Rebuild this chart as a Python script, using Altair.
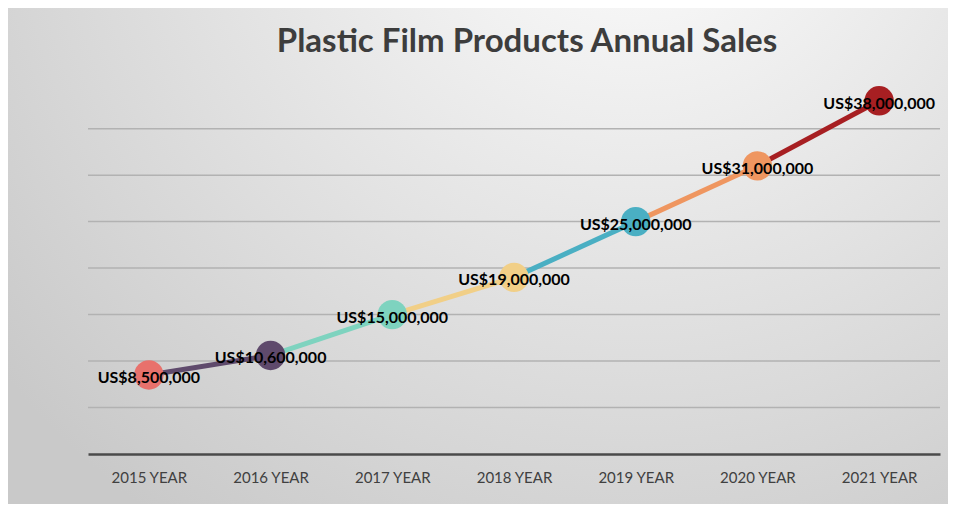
import altair as alt
import pandas as pd

title_text = "Plastic Film Products Annual Sales"
years = ["2015 YEAR", "2016 YEAR", "2017 YEAR", "2018 YEAR", "2019 YEAR", "2020 YEAR", "2021 YEAR"]
sales = [8500000, 10600000, 15000000, 19000000, 25000000, 31000000, 38000000]
labels = ["US$8,500,000", "US$10,600,000", "US$15,000,000", "US$19,000,000",
          "US$25,000,000", "US$31,000,000", "US$38,000,000"]
colors = ["#E8716C", "#5F4A6C", "#7ED3BF", "#F1CF87", "#4AAFC3", "#EF9660", "#A71F22"]
grid_values = [5000000, 10000000, 15000000, 20000000, 25000000, 30000000, 35000000]

W, H = 852, 330

pts = pd.DataFrame({"year": years, "sales": sales, "label": labels, "color": colors})

seg_rows = []
for i in range(len(years) - 1):
    seg_rows.append({"seg": i, "year": years[i], "sales": sales[i], "color": colors[i + 1]})
    seg_rows.append({"seg": i, "year": years[i + 1], "sales": sales[i + 1], "color": colors[i + 1]})
segs = pd.DataFrame(seg_rows)

xscale = alt.Scale(type="point", padding=0.5, domain=years)
yscale = alt.Scale(domain=[0, 35500000], nice=False, zero=True)

bg = alt.Chart(pd.DataFrame({"a": [0]})).mark_rect(
    fill=alt.RadialGradient(
        gradient="radial", x1=0.66, y1=0.08, r1=0.0, x2=0.66, y2=0.08, r2=0.85,
        stops=[alt.GradientStop(offset=0, color="#ffffff"),
               alt.GradientStop(offset=1, color="#c9c9c9")]),
    stroke=None,
).encode(x=alt.value(-90), x2=alt.value(W + 20), y=alt.value(-126), y2=alt.value(H + 62))

title = alt.Chart(pd.DataFrame({"t": [title_text]})).mark_text(
    font="Lato", fontSize=33, fontWeight="bold", color="#3d3d3d",
    align="center", baseline="alphabetic"
).encode(x=alt.value(W / 2 + 13), y=alt.value(-72), text="t:N")

grid = alt.Chart(pd.DataFrame({"g": grid_values})).mark_rule(
    color="#b2b2b2", strokeWidth=1.5
).encode(y=alt.Y("g:Q", scale=yscale, axis=None))

lines = alt.Chart(segs).mark_line(strokeWidth=5, strokeCap="butt").encode(
    x=alt.X("year:N", scale=xscale, sort=years,
            axis=alt.Axis(title=None, ticks=False, labelAngle=0, labelFont="Lato",
                          labelFontSize=15, labelColor="#404040", labelPadding=16,
                          domainColor="#4a4a4a", domainWidth=2.5, zindex=1)),
    y=alt.Y("sales:Q", scale=yscale, axis=None),
    detail="seg:N",
    color=alt.Color("color:N", scale=None),
)

circles = alt.Chart(pts).mark_circle(size=860, opacity=1).encode(
    x=alt.X("year:N", scale=xscale, sort=years),
    y=alt.Y("sales:Q", scale=yscale),
    color=alt.Color("color:N", scale=None),
)

text = alt.Chart(pts).mark_text(
    font="Lato", fontSize=16, fontWeight="bold", color="#000000", baseline="middle", dy=3
).encode(
    x=alt.X("year:N", scale=xscale, sort=years),
    y=alt.Y("sales:Q", scale=yscale),
    text="label:N",
)

chart = alt.layer(bg, title, grid, lines, circles, text).properties(
    width=W, height=H,
    padding={"left": 80, "top": 116, "right": 8, "bottom": 50},
    autosize=alt.AutoSizeParams(type="none"),
).configure_view(stroke=None).configure(background="#d0d0d0")

chart.save("out.html", embed_options={"renderer": "svg", "actions": False})
